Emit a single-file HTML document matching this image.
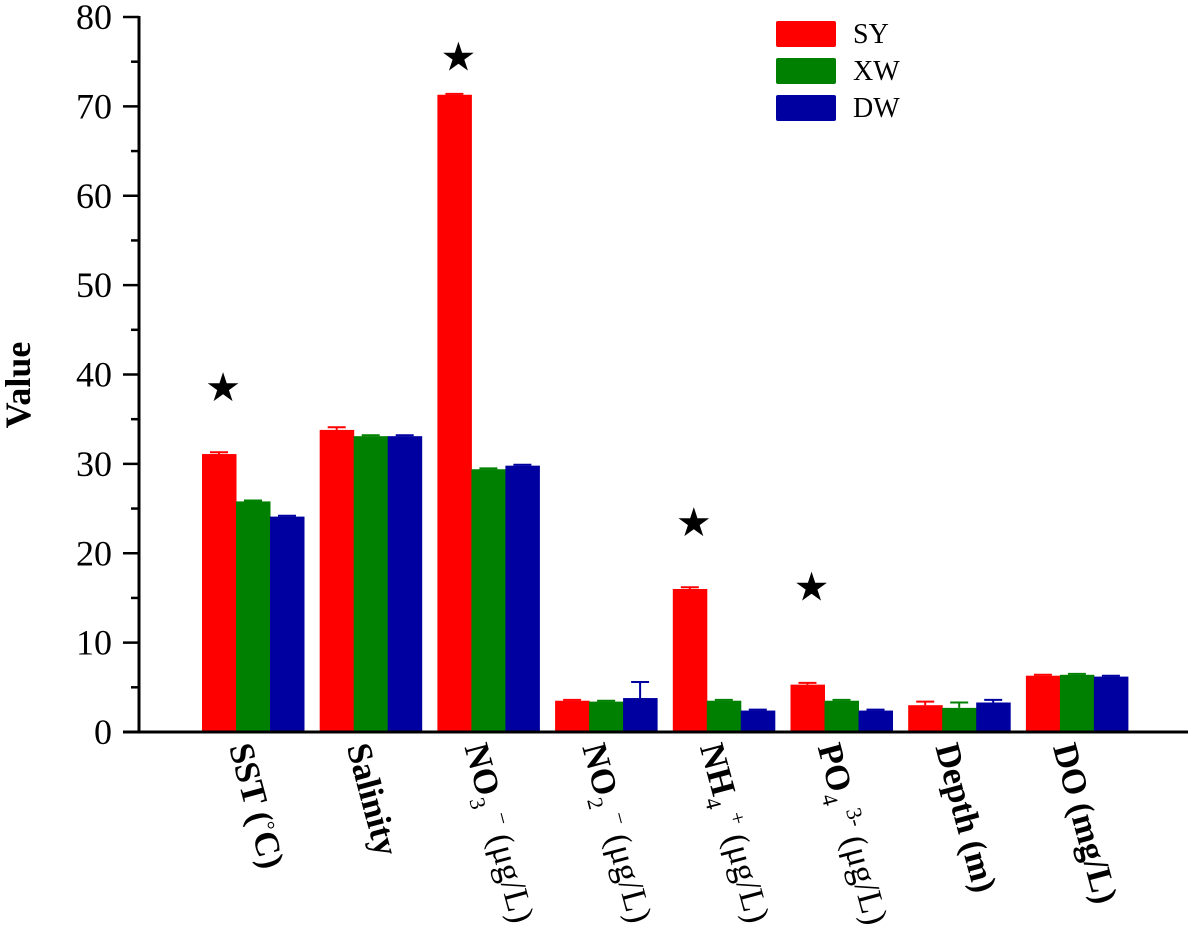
<!DOCTYPE html>
<html><head><meta charset="utf-8">
<style>
html,body{margin:0;padding:0;background:#fff;}
svg{display:block;}
text{font-family:"Liberation Serif",serif;fill:#000;}
</style></head>
<body>
<svg id="chart" width="1200" height="952" viewBox="0 0 1200 952" xmlns="http://www.w3.org/2000/svg">
  <g id="plot"></g>
</svg>
<script>
const categories = ["SST", "Salinity", "NO3", "NO2", "NH4", "PO4", "Depth", "DO"];
const seriesNames = ["SY", "XW", "DW"];
const syValues = [31.1, 33.8, 71.3, 3.5, 16.0, 5.3, 3.0, 6.3];
const xwValues = [25.8, 33.1, 29.4, 3.4, 3.5, 3.5, 2.7, 6.4];
const dwValues = [24.1, 33.1, 29.8, 3.8, 2.4, 2.4, 3.3, 6.2];
const syErrors = [0.2, 0.3, 0.1, 0.1, 0.2, 0.2, 0.4, 0.1];
const xwErrors = [0.1, 0.1, 0.1, 0.1, 0.1, 0.1, 0.6, 0.1];
const dwErrors = [0.1, 0.1, 0.1, 1.8, 0.1, 0.1, 0.3, 0.1];
const starValues = [38.6, null, 75.6, null, 23.5, 16.3, null, null];
const yTicks = [0, 10, 20, 30, 40, 50, 60, 70, 80];
const yMinorTicks = [5, 15, 25, 35, 45, 55, 65, 75];

const NS = "http://www.w3.org/2000/svg";
const plot = document.getElementById('plot');
const colors = ["#ff0000", "#008000", "#0000a0"];
const Y0 = 732, Y80 = 17, AXIS_X = 139, X_END = 1188;
const yScale = v => Y0 - (v / 80) * (Y0 - Y80);
const GROUP_START = 202, GROUP_STEP = 117.7, BAR_W = 34;
const xGroup = i => GROUP_START + i * GROUP_STEP;
const xBar = (i, s) => xGroup(i) + s * BAR_W;

function mk(tag, attrs, parent) {
  const e = document.createElementNS(NS, tag);
  for (const k in attrs) e.setAttribute(k, attrs[k]);
  (parent || plot).appendChild(e);
  return e;
}

const allValues = [syValues, xwValues, dwValues];
const allErrors = [syErrors, xwErrors, dwErrors];
allValues.forEach((vals, s) => {
  vals.forEach((v, i) => {
    const x = xBar(i, s), y = yScale(v);
    const r = mk('rect', {x: x, y: y, width: BAR_W + 0.5, height: Y0 - y, fill: colors[s]});
    
    
    const e = allErrors[s][i];
    const ye = yScale(v + e);
    const cx = x + BAR_W / 2;
    const g = mk('g', {stroke: colors[s], 'stroke-width': 2});
    
    
    mk('line', {x1: cx, y1: y, x2: cx, y2: ye}, g);
    mk('line', {x1: cx - 9, y1: ye, x2: cx + 9, y2: ye}, g);
  });
});

starValues.forEach((v, i) => {
  if (v === null) return;
  const t = mk('text', {x: xBar(i, 0) + BAR_W / 2 + 4, y: yScale(v) + 14, 'text-anchor': 'middle', 'font-size': 40, 'font-family': '"DejaVu Sans", sans-serif'});
  t.textContent = '★';
  
  
});

const yAxis = mk('line', {x1: AXIS_X, y1: Y80 - 1, x2: AXIS_X, y2: Y0 + 1.5, stroke: '#000', 'stroke-width': 3});


const xAxis = mk('line', {x1: 123, y1: Y0, x2: X_END, y2: Y0, stroke: '#000', 'stroke-width': 3});



yTicks.forEach(v => {
  const y = yScale(v);
  const tk = mk('line', {x1: 123, y1: y, x2: AXIS_X, y2: y, stroke: '#000', 'stroke-width': 2.5});
  
  
  const t = mk('text', {x: 112, y: y + 12, 'text-anchor': 'end', 'font-size': 36});
  t.textContent = v;
  
  
});
yMinorTicks.forEach(v => {
  const y = yScale(v);
  const tk = mk('line', {x1: 131, y1: y, x2: AXIS_X, y2: y, stroke: '#000', 'stroke-width': 2.5});
  
  
});

const yTitle = mk('text', {x: 0, y: 0, 'text-anchor': 'middle', 'font-size': 36, 'font-weight': 'bold', transform: 'translate(30,385) rotate(-90)'});
yTitle.textContent = 'Value';



const labelParts = [
  [["SST (", 0, 1], ["°", -9, 0, 22], ["C)", 0, 1]],
  [["Salinity", 0, 1]],
  [["NO", 0, 1], ["3", 9, 0, 22], [" ", 0, 1], ["−", -11, 0, 22], [" (μg/L)", 0, 0]],
  [["NO", 0, 1], ["2", 9, 0, 22], [" ", 0, 1], ["−", -11, 0, 22], [" (μg/L)", 0, 0]],
  [["NH", 0, 1], ["4", 9, 0, 22], [" ", 0, 1], ["+", -11, 0, 22], [" (μg/L)", 0, 0]],
  [["PO", 0, 1], ["4", 9, 0, 22], [" ", 0, 1], ["3-", -11, 0, 22], [" (μg/L)", 0, 0]],
  [["Depth (m)", 0, 1]],
  [["DO (mg/L)", 0, 1]]
];
labelParts.forEach((parts, i) => {
  const cx = xGroup(i) + 1.5 * BAR_W;
  const t = mk('text', {x: 0, y: 0, 'font-size': 35, transform: 'translate(' + (cx - 24) + ',747) rotate(75)'});
  
  
  let prevDy = 0;
  parts.forEach(p => {
    const ts = mk('tspan', {}, t);
    ts.textContent = p[0];
    ts.setAttribute('dy', p[1] - prevDy);
    prevDy = p[1];
    ts.setAttribute('font-weight', p[2] ? 'bold' : 'normal');
    if (p[3]) ts.setAttribute('font-size', p[3]);
  });
});

seriesNames.forEach((n, s) => {
  const g = mk('g', {});
  
  
  const y = 21 + s * 37;
  mk('rect', {x: 776, y: y, width: 60, height: 26, rx: 2, fill: colors[s]}, g);
  const t = mk('text', {x: 853, y: y + 22, 'font-size': 28}, g);
  t.textContent = n;
});
</script>
</body></html>
